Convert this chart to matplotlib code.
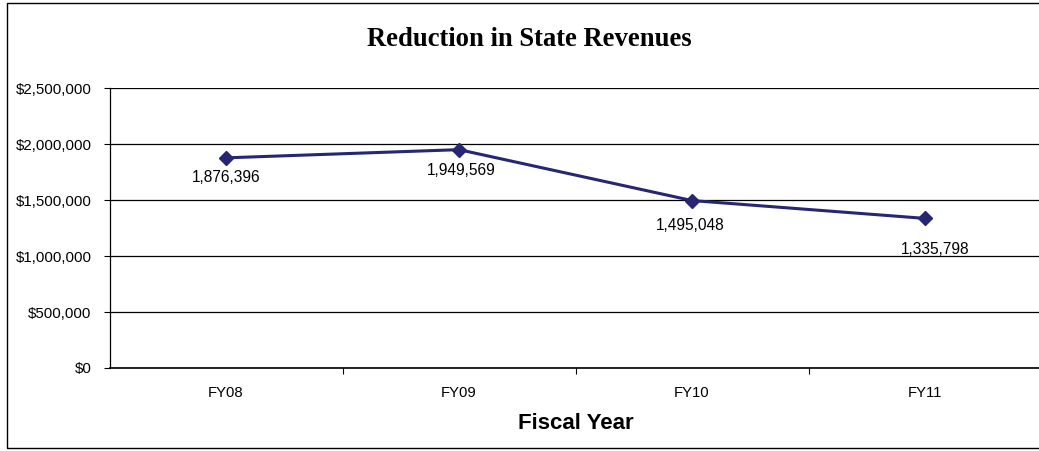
import numpy as np
import matplotlib
matplotlib.use("Agg")
import matplotlib.pyplot as plt
from matplotlib.ticker import FuncFormatter, FixedLocator
from matplotlib.patches import Rectangle

# data
years = ["FY08", "FY09", "FY10", "FY11"]
revenue = [1876396, 1949569, 1495048, 1335798]
label_offsets = [(0, -20), (2, -21), (-2, -25), (10, -31)]  # px, label placement

plt.rcParams['font.family'] = ['Liberation Sans', 'DejaVu Sans']

fig = plt.figure(figsize=(10.39, 4.51), dpi=100)
ax = fig.add_axes([109.5 / 1039, 1 - 368 / 451, 932 / 1039, 280 / 451])

x = np.arange(len(years))
ax.plot(x, revenue, color='#262673', lw=2.2, marker='D', ms=7, zorder=3, clip_on=False)

for xi, v, (dx, dy) in zip(x, revenue, label_offsets):
    ax.annotate(f"{v:,}", (xi, v), xytext=(dx * 0.72, dy * 0.72), textcoords='offset points',
                ha='center', va='center', fontsize=11.2)

ax.set_xlim(-0.5, len(years) - 0.5)
ax.set_ylim(0, 2500000)
ax.set_yticks(np.arange(0, 2500001, 500000))
ax.yaxis.set_major_formatter(FuncFormatter(lambda v, p: f"${v:,.0f}"))
ax.grid(axis='y', color='black', lw=0.9)
ax.set_axisbelow(True)

# category labels between boundary ticks
ax.set_xticks(x)
ax.set_xticklabels(years)
ax.xaxis.set_minor_locator(FixedLocator(np.arange(0.5, len(years) - 0.5, 1)))
ax.tick_params(axis='x', which='major', length=0, pad=13, labelsize=10.7)
ax.tick_params(axis='x', which='minor', length=4, width=0.8, direction='out')
ax.tick_params(axis='y', length=4, width=0.8, pad=9, labelsize=10.8)

for s in ['top', 'right']:
    ax.spines[s].set_visible(False)
ax.spines['left'].set_linewidth(0.9)
ax.spines['bottom'].set_linewidth(1.2)

ax.set_xlabel("Fiscal Year", fontsize=16, fontweight='bold', labelpad=9.5)
fig.text(529.5 / 1039, 1 - 40 / 451, "Reduction in State Revenues", ha='center', va='center',
         fontsize=19.2, fontweight='bold', family=['Liberation Serif', 'DejaVu Serif'])

fig.patches.append(Rectangle((7 / 1039, 3 / 451), 1.1, 445 / 451, transform=fig.transFigure,
                             fill=False, ec='black', lw=1.0))

fig.savefig("out.png", dpi=100)
